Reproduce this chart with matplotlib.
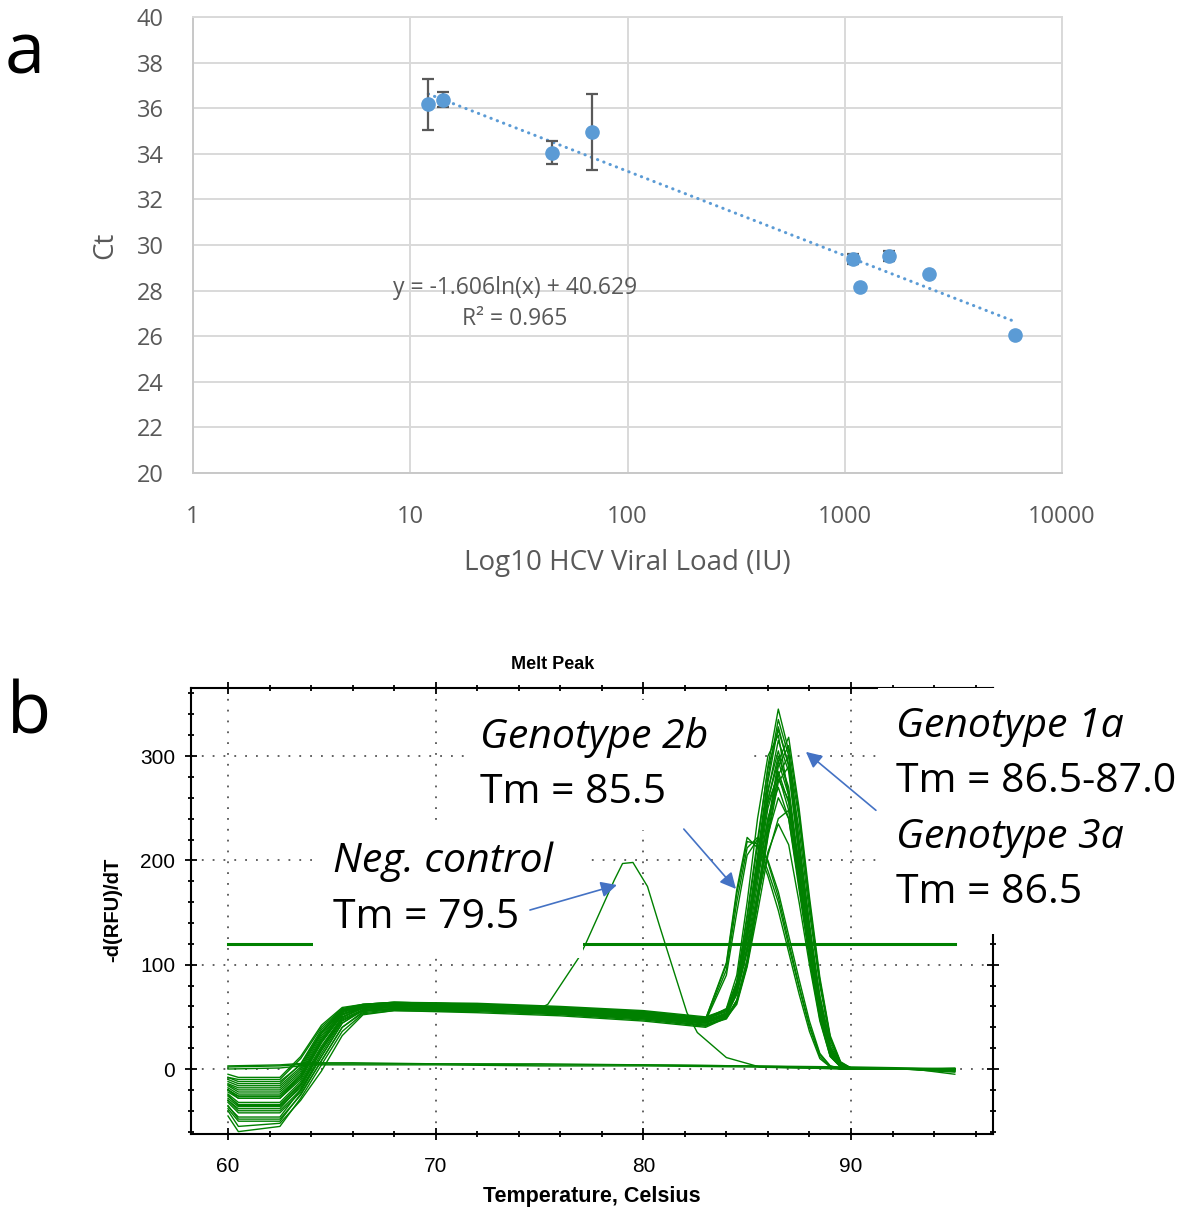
import numpy as np
import matplotlib.pyplot as plt
from matplotlib.patches import Rectangle
from matplotlib.ticker import MultipleLocator, NullLocator

# ---------------- panel a: Ct vs viral load ----------------
viral_load = [12.1, 14.2, 44.9, 68.6, 1095, 1175, 1603, 2443, 6078]
ct_mean = [36.18, 36.36, 34.04, 34.96, 29.39, 28.14, 29.50, 28.71, 26.05]
ct_err = [1.12, 0.33, 0.50, 1.67, 0.22, 0.0, 0.22, 0.0, 0.0]
fit_slope, fit_icpt, fit_r2 = -1.606, 40.629, 0.965
decades = [1, 10, 100, 1000, 10000]
decade_labels = ['1', '10', '100', '1000', '10000']
ct_ticks = list(range(20, 41, 2))

# ---------------- panel b: melt peak ----------------
temp = [60, 60.5, 62.5, 63.5, 64.5, 65.5, 66.5, 68, 72, 76, 80, 83, 84, 84.5,
        85, 85.5, 86, 86.5, 87, 87.5, 88, 88.5, 89, 89.5, 90, 92.5, 95]

geno_1a_3a = [
    [-22, -28, -28, -10, 25, 52, 60, 61, 60, 57, 53, 47, 56, 82, 145, 215, 290, 345, 305, 220, 140, 70, 22, 5, 1, 0, 0],
    [-15, -20, -20, -2, 32, 55, 61, 63, 62, 59, 55, 48, 55, 78, 135, 205, 280, 335, 300, 215, 135, 65, 20, 4, 1, 0, -1],
    [-30, -40, -40, -20, 15, 46, 56, 58, 57, 54, 49, 44, 51, 75, 130, 200, 275, 328, 290, 205, 130, 62, 18, 4, 1, 0, 0],
    [-10, -14, -14, 5, 38, 57, 61, 62, 61, 58, 54, 48, 58, 90, 160, 240, 300, 320, 262, 180, 108, 50, 14, 2, 0, 0, 1],
    [-25, -35, -35, -15, 20, 50, 58, 60, 58, 55, 51, 45, 52, 76, 128, 195, 265, 315, 285, 205, 128, 62, 18, 4, 1, 0, -2],
    [-35, -48, -48, -25, 8, 40, 54, 57, 56, 53, 48, 42, 50, 66, 105, 165, 230, 290, 310, 245, 160, 85, 30, 6, 1, 0, 0],
    [-18, -24, -24, -6, 28, 54, 60, 61, 59, 56, 52, 46, 54, 78, 132, 198, 268, 305, 265, 190, 118, 56, 16, 3, 0, 0, 0],
    [-28, -36, -36, -18, 18, 48, 57, 59, 57, 55, 50, 44, 51, 74, 125, 190, 258, 300, 270, 195, 122, 58, 17, 4, 1, 0, -3],
    [-12, -16, -16, 2, 35, 56, 62, 64, 62, 59, 55, 49, 56, 80, 132, 196, 258, 295, 262, 188, 115, 54, 15, 3, 0, 0, 0],
    [-40, -55, -52, -30, -2, 32, 52, 56, 55, 52, 47, 41, 50, 64, 100, 160, 222, 275, 290, 230, 150, 80, 28, 6, 1, 0, 0],
    [-20, -28, -28, -8, 26, 52, 59, 60, 59, 56, 51, 45, 53, 75, 124, 186, 250, 285, 255, 182, 112, 52, 14, 3, 0, 0, -1],
    [-32, -42, -42, -22, 12, 44, 56, 58, 57, 54, 50, 45, 51, 72, 118, 178, 240, 278, 258, 190, 120, 58, 18, 4, 1, 0, 0],
    [-8, -10, -10, 10, 40, 58, 62, 64, 63, 60, 56, 50, 57, 80, 128, 185, 240, 270, 240, 172, 105, 48, 12, 2, 0, 0, 0],
    [-24, -32, -32, -12, 22, 50, 59, 60, 58, 55, 51, 45, 52, 72, 115, 170, 225, 260, 240, 178, 112, 53, 15, 3, 0, 0, -2],
    [-45, -60, -55, -28, 4, 36, 53, 56, 54, 51, 46, 40, 49, 62, 98, 150, 205, 240, 248, 200, 130, 70, 25, 5, 1, 0, 0],
    [-16, -22, -22, -4, 30, 55, 60, 62, 60, 57, 53, 47, 53, 72, 112, 162, 208, 235, 215, 160, 100, 46, 12, 2, 0, 0, 0],
    [-20, -26, -26, -6, 28, 53, 59, 63, 62, 58, 54, 48, 57, 84, 148, 220, 288, 325, 292, 212, 135, 66, 20, 4, 1, 0, 0],
    [-30, -38, -38, -16, 18, 47, 56, 57, 56, 53, 48, 42, 48, 64, 100, 158, 225, 282, 300, 240, 158, 84, 30, 6, 1, 0, -1],
    [-5, -8, -8, 12, 42, 59, 62, 64, 62, 59, 55, 49, 57, 82, 138, 200, 255, 282, 248, 176, 108, 50, 13, 2, 0, 0, 0],
    [-38, -50, -50, -24, 8, 40, 55, 58, 57, 53, 49, 43, 49, 66, 105, 165, 235, 295, 318, 250, 165, 88, 32, 7, 1, 0, 0],
]

geno_2b = [
    [-14, -18, -18, 0, 34, 56, 61, 62, 60, 57, 53, 48, 100, 168, 218, 216, 190, 160, 118, 78, 40, 12, 2, 0, 0, 0, 0],
    [-26, -34, -34, -14, 20, 49, 59, 61, 59, 56, 52, 47, 95, 160, 212, 222, 198, 165, 122, 80, 42, 14, 3, 0, 0, 0, 0],
    [-36, -46, -46, -20, 12, 44, 57, 60, 58, 55, 51, 46, 90, 150, 205, 220, 200, 170, 128, 86, 46, 15, 3, 1, 0, 0, 0],
    [-8, -12, -12, 4, 36, 57, 61, 63, 60, 57, 53, 48, 102, 172, 222, 212, 185, 152, 112, 72, 36, 10, 2, 0, 0, 0, 0],
]

neg_temp = [60, 60.5, 62.5, 63.5, 64.5, 65.5, 66.5, 68, 72, 74.8, 75.4, 76.9, 77.2,
            78.6, 79.0, 79.5, 80.2, 80.8, 81.1, 82.1, 82.6, 84.0, 85.6, 90, 95]
neg_control = [-20, -26, -26, -8, 26, 52, 59, 61, 58, 56, 62, 107, 119,
               181, 197, 198, 175, 136, 117, 54, 35, 11, 2, 0, 0]

blank_temp = [60, 62.5, 64, 66, 70, 75, 80, 85, 90, 93, 95]
blank_wells = [
    [2, 3, 5, 5, 5, 4, 4, 3, 1, 0, -2],
    [0, 1, 4, 4, 4, 3, 3, 2, 0, 0, -5],
    [3, 4, 6, 6, 5, 5, 4, 3, 2, 1, 0],
]
threshold = 120

fig = plt.figure(figsize=(11.85, 12.13), dpi=100)

# ================= panel a =================
gray_txt = '#595959'
ax1 = fig.add_axes([0.1629, 0.6101, 0.7333, 0.3759])
ax1.set_xscale('log')
ax1.set_xlim(1, 10000)
ax1.set_ylim(20, 40)
ax1.set_xticks(decades, labels=decade_labels)
ax1.xaxis.set_minor_locator(NullLocator())
ax1.set_yticks(ct_ticks)
ax1.grid(True, color='#D9D9D9', lw=1.4)
ax1.set_axisbelow(True)
for s in ax1.spines.values():
    s.set_color('#D9D9D9')
    s.set_linewidth(1.4)
ax1.spines['left'].set_color('#C8C8C8')
ax1.spines['bottom'].set_color('#C8C8C8')
ax1.tick_params(length=0, pad=21, labelsize=17, labelcolor=gray_txt)
ax1.tick_params(axis='x', pad=23)
for lab in ax1.get_xticklabels() + ax1.get_yticklabels():
    lab.set_family('Open Sans')

# trendline from the shown equation
xfit = np.geomspace(min(viral_load), max(viral_load), 200)
ax1.plot(xfit, fit_slope * np.log(xfit) + fit_icpt, color='#5B9BD5', lw=2.2,
         linestyle=(0, (0.1, 2.1)), dash_capstyle='round', zorder=2)
ax1.errorbar(viral_load, ct_mean, yerr=ct_err, fmt='none', ecolor=gray_txt,
             elinewidth=1.6, capsize=4, capthick=1.6, zorder=3)
ax1.plot(viral_load, ct_mean, 'o', color='#5B9BD5', ms=9.5, zorder=4)

ax1.text(30.4, 28.11, 'y = %.3fln(x) + %.3f' % (fit_slope, fit_icpt), ha='center',
         va='center', fontsize=16.5, color=gray_txt, family='Open Sans')
ax1.text(30.4, 26.75, 'R² = %.3f' % fit_r2, ha='center', va='center',
         fontsize=16.5, color=gray_txt, family='Open Sans')

ax1.set_xlabel('Log10 HCV Viral Load (IU)', fontsize=20, color=gray_txt, family='Open Sans')
ax1.xaxis.set_label_coords(0.5, -0.197)
ax1.xaxis.label.set_va('center')
ax1.set_ylabel('Ct', fontsize=20, color=gray_txt, family='Open Sans')
ax1.yaxis.set_label_coords(-0.1013, 0.5)
ax1.yaxis.label.set_va('center')

# ================= panel b =================
green = '#008000'
ax2 = fig.add_axes([0.1612, 0.0651, 0.6768, 0.3677])
ax2.set_xlim(58.22, 96.84)
ax2.set_ylim(-62.3, 365.2)

for row in geno_1a_3a + geno_2b:
    ax2.plot(temp, row, color=green, lw=1.0, zorder=2)
for row in blank_wells:
    ax2.plot(blank_temp, row, color=green, lw=1.0, zorder=2)
ax2.plot(neg_temp, neg_control, color=green, lw=1.0, zorder=2)
ax2.plot([min(temp), max(temp)], [threshold, threshold], color=green, lw=2.2, zorder=2)

ax2.xaxis.set_major_locator(MultipleLocator(10))
ax2.xaxis.set_minor_locator(MultipleLocator(2))
ax2.yaxis.set_major_locator(MultipleLocator(100))
ax2.yaxis.set_minor_locator(MultipleLocator(20))
ax2.grid(True, which='major', color='#555555', lw=1.3, linestyle=(0, (1, 5)))
ax2.set_axisbelow(True)
ax2.tick_params(which='both', direction='inout', top=True, right=True, width=1.3)
ax2.tick_params(which='major', length=9, labelsize=15, pad=7)
ax2.tick_params(axis='x', which='major', pad=12)
ax2.tick_params(which='minor', length=5)
for s in ax2.spines.values():
    s.set_linewidth(1.5)
for lab in ax2.get_xticklabels() + ax2.get_yticklabels():
    lab.set_family('Liberation Sans')

ax2.set_xlabel('Temperature, Celsius', fontsize=15.5, fontweight='bold', family='Liberation Sans')
ax2.xaxis.set_label_coords(0.5, -0.141)
ax2.xaxis.label.set_va('center')
ax2.set_ylabel('-d(RFU)/dT', fontsize=14.5, fontweight='bold', family='Liberation Sans')
ax2.yaxis.set_label_coords(-0.0973, 0.502)
ax2.yaxis.label.set_va('center')
ax2.text(0.451, 1.0516, 'Melt Peak', transform=ax2.transAxes, ha='center', va='center',
         fontsize=13, fontweight='bold', family='Liberation Sans')

# white label boxes (data coords)
boxes = [(64.09, 106.4, 13.0, 129.6), (71.41, 229.0, 13.82, 124.8), (91.3, 129.0, 20.0, 236.0)]
for bx, by, bw, bh in boxes:
    ax2.add_patch(Rectangle((bx, by), bw, bh, facecolor='white', edgecolor='none',
                            zorder=5, clip_on=False))

lab_kw = dict(fontsize=29.5, family='Open Sans', va='center', ha='left', zorder=6)
ax2.text(65.06, 198.5, 'Neg. control', style='italic', **lab_kw)
ax2.text(65.06, 144.8, 'Tm = 79.5', **lab_kw)
ax2.text(72.13, 318.0, 'Genotype 2b', style='italic', **lab_kw)
ax2.text(72.13, 264.6, 'Tm = 85.5', **lab_kw)
ax2.text(92.16, 328.0, 'Genotype 1a', style='italic', **lab_kw)
ax2.text(92.16, 275.0, 'Tm = 86.5-87.0', **lab_kw)
ax2.text(92.16, 221.5, 'Genotype 3a', style='italic', **lab_kw)
ax2.text(92.16, 168.7, 'Tm = 86.5', **lab_kw)

arrow_kw = dict(arrowstyle='-|>', color='#4472C4', lw=1.2, mutation_scale=24,
                shrinkA=0, shrinkB=0)
for tail, head in [((74.54, 152.4), (78.73, 176.4)),
                   ((81.95, 230.0), (84.46, 172.6)),
                   ((91.2, 248.0), (87.83, 304.0))]:
    ax2.annotate('', xy=head, xytext=tail, arrowprops=arrow_kw, zorder=7,
                 annotation_clip=False)

fig.text(25 / 1185, 1 - 55 / 1213, 'a', fontsize=52, ha='center', va='center', family='Open Sans')
fig.text(29 / 1185, 1 - 715 / 1213, 'b', fontsize=52, ha='center', va='center', family='Open Sans')

fig.savefig('out.png', dpi=100)
